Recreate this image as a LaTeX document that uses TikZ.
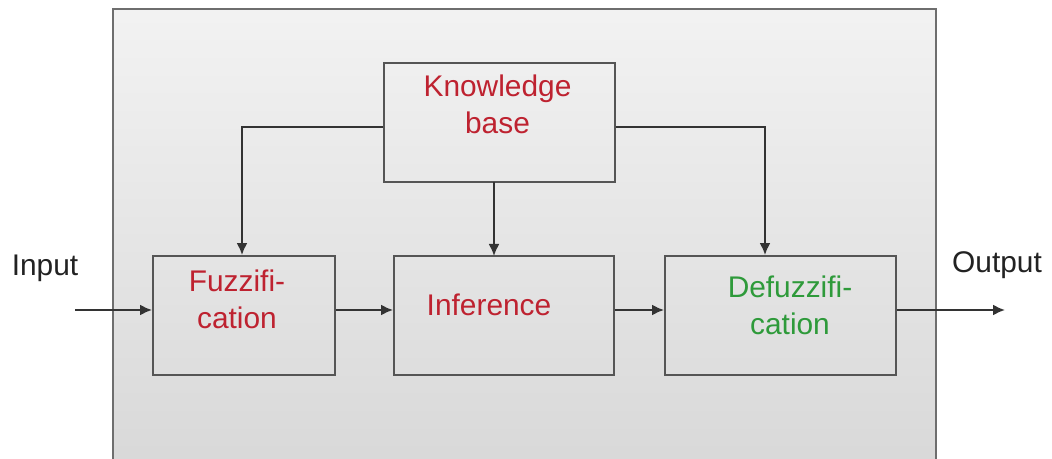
\documentclass[tikz,border=0pt]{standalone}
\usepackage{fontspec}
\setmainfont{Liberation Sans}
\usetikzlibrary{arrows.meta}
\usetikzlibrary{positioning}
\definecolor{kbred}{HTML}{BE2230}
\definecolor{dfgreen}{HTML}{2E9A3A}
\definecolor{edge}{HTML}{555555}
\definecolor{wire}{HTML}{333333}
\definecolor{ink}{HTML}{222222}
\begin{document}
\begin{tikzpicture}[line width=1.1pt,>={Latex[length=2.4mm,width=2.2mm]}]
    \useasboundingbox (0,0) rectangle (21.04,9.18);
    % outer frame
    \shade[top color=black!5,bottom color=black!15] (2.26,0) rectangle (18.72,9.0);
    \draw[edge!85] (2.26,0) -- (2.26,9.0) -- (18.72,9.0) -- (18.72,0);
    \begin{scope}[minimum height=2.38cm]
      \tikzstyle{every node}=[draw=edge]
      \node[minimum width=4.62cm] (KB)     at (9.99 ,6.73) {};
      \node[minimum width=3.64cm] (Fuzz)   at (4.88 ,2.87) {};
      \node[minimum width=4.40cm] (Inf)    at (10.08,2.87) {};
      \node[minimum width=4.62cm] (Defuzz) at (15.61,2.87) {};
    \end{scope}
    \begin{scope}[font=\fontsize{17}{21}\selectfont]
      \tikzstyle{every node}=[align=center]
      \node[kbred]    (KBtxt)     at (9.95 ,7.10) {Knowledge\\base};
      \node[kbred]    (Fuzztxt)   at (4.74 ,3.20) {Fuzzifi-\\cation};
      \node[kbred]    (Inftxt)    at (9.78 ,3.08) {Inference};
      \node[dfgreen]  (Defuzztxt) at (15.80,3.08) {Defuzzifi-\\cation};
      \node[ink]      (In)        at (0.90 ,3.82) {Input};
      \node[ink]      (Out)       at (19.94,3.88) {Output};
    \end{scope}
    \coordinate (src) at (1.50,2.98);
    \coordinate (dst) at (20.10,2.98);
    \coordinate (kbl) at (4.84,6.64);
    \coordinate (kbr) at (15.30,6.64);
    \draw[wire,->]  (src) -- (Fuzz.west |- src);
    \draw[wire,->]  (Fuzz.east |- src) -- (Inf.west |- src);
    \draw[wire,->]  (Inf.east |- src) -- (Defuzz.west |- src);
    \draw[wire,->]  (Defuzz.east |- src) -- (dst);
    \draw[wire,->]  (KB.west |- kbl) -- (kbl) -- (kbl |- Fuzz.north);
    \draw[wire,->]  (KB.east |- kbr) -- (kbr) -- (kbr |- Defuzz.north);
    \draw[wire,->]  (9.88,5.54) -- (9.88,4.06);
\end{tikzpicture}
\end{document}
